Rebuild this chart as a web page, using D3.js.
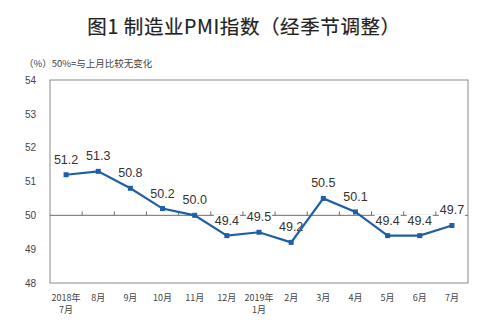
<!DOCTYPE html>
<html>
<head>
<meta charset="utf-8">
<script src="https://cdn.jsdelivr.net/npm/d3@7"></script>
<style>
  html, body { margin: 0; padding: 0; background: #fff; }
  svg { display: block; }
</style>
</head>
<body>
<svg id="chart" width="500" height="336"></svg>
<script>
// Manufacturing PMI, seasonally adjusted
const months = ["2018年|7月", "8月", "9月", "10月", "11月", "12月", "2019年|1月", "2月", "3月", "4月", "5月", "6月", "7月"];
const pmi = [51.2, 51.3, 50.8, 50.2, 50.0, 49.4, 49.5, 49.2, 50.5, 50.1, 49.4, 49.4, 49.7];
const yTicks = [48, 49, 50, 51, 52, 53, 54];

const svg = d3.select("#chart");
const margin = { left: 50, right: 32, top: 80, bottom: 53 };
const W = 500, H = 336;
const lineColor = "#1f5ea8";
const font = "'Liberation Sans', Arial, 'Noto Sans CJK SC', sans-serif";
const cjk = "'Noto Sans CJK SC', sans-serif";

const x = d3.scaleBand().domain(months).range([margin.left, W - margin.right]);
const y = d3.scaleLinear().domain([48, 54]).range([H - margin.bottom, margin.top]);

// Title and unit note
svg.append("text")
  .attr("x", 244).attr("y", 34)
  .attr("text-anchor", "middle")
  .attr("font-family", cjk).attr("font-size", 19.5).attr("font-weight", 400)
  .attr("letter-spacing", 0.6)
  .attr("fill", "#222").attr("stroke", "#222").attr("stroke-width", 0.2)
  .text("图1 制造业PMI指数（经季节调整）");

svg.append("text")
  .attr("x", 24).attr("y", 67)
  .attr("font-family", cjk).attr("font-size", 9.5)
  .attr("fill", "#444")
  .text("（%）50%=与上月比较无变化");

// Plot frame
svg.append("rect")
  .attr("x", margin.left).attr("y", margin.top)
  .attr("width", W - margin.left - margin.right)
  .attr("height", H - margin.top - margin.bottom)
  .attr("fill", "none").attr("stroke", "#8a8a8a").attr("stroke-width", 1);

// Y axis labels
const yAxis = d3.axisLeft(y).tickValues(yTicks).tickSize(0).tickPadding(14).tickFormat(d3.format("d"));
const gy = svg.append("g").attr("transform", `translate(${margin.left},0)`).call(yAxis);
gy.select(".domain").remove();
gy.selectAll("text").attr("font-family", font).attr("font-size", 10).attr("fill", "#444");

// Category axis sits on the 50 line, with ticks between months
const y50 = y(50);
svg.append("line")
  .attr("x1", margin.left).attr("x2", W - margin.right)
  .attr("y1", y50).attr("y2", y50)
  .attr("stroke", "#6e6e6e").attr("stroke-width", 1);
svg.append("g").selectAll("line")
  .data(months.slice(1))
  .join("line")
  .attr("x1", d => x(d)).attr("x2", d => x(d))
  .attr("y1", y50).attr("y2", y50 - 4)
  .attr("stroke", "#6e6e6e").attr("stroke-width", 1);

// Month labels along the bottom
const lab = svg.append("g").selectAll("text")
  .data(months)
  .join("text")
  .attr("x", d => x(d) + x.bandwidth() / 2)
  .attr("y", H - margin.bottom + 18)
  .attr("text-anchor", "middle")
  .attr("font-family", cjk).attr("font-size", 9).attr("fill", "#444");
lab.each(function(d) {
  const parts = d.split("|");
  const t = d3.select(this);
  parts.forEach((p, i) => {
    t.append("tspan")
      .attr("x", x(d) + x.bandwidth() / 2)
      .attr("dy", i === 0 ? 0 : 12)
      .text(p);
  });
});

// Data labels with a white backing
const cx = (d, i) => x(months[i]) + x.bandwidth() / 2;
const labels = svg.append("g").selectAll("g")
  .data(pmi)
  .join("g")
  .attr("transform", (d, i) => `translate(${cx(d, i)},${y(d) - 11})`);
labels.append("rect")
  .attr("x", -13).attr("y", -10).attr("width", 26).attr("height", 12)
  .attr("fill", "#fff");
labels.append("text")
  .attr("text-anchor", "middle")
  .attr("font-family", font).attr("font-size", 12.5).attr("fill", "#333")
  .text(d => d.toFixed(1));

// Series line and square markers
const line = d3.line().x((d, i) => cx(d, i)).y(d => y(d));
svg.append("path")
  .datum(pmi)
  .attr("d", line)
  .attr("fill", "none").attr("stroke", lineColor).attr("stroke-width", 2.2);
svg.append("g").selectAll("rect")
  .data(pmi)
  .join("rect")
  .attr("x", (d, i) => cx(d, i) - 2.5).attr("y", d => y(d) - 2.5)
  .attr("width", 5).attr("height", 5)
  .attr("fill", lineColor);
</script>
</body>
</html>
